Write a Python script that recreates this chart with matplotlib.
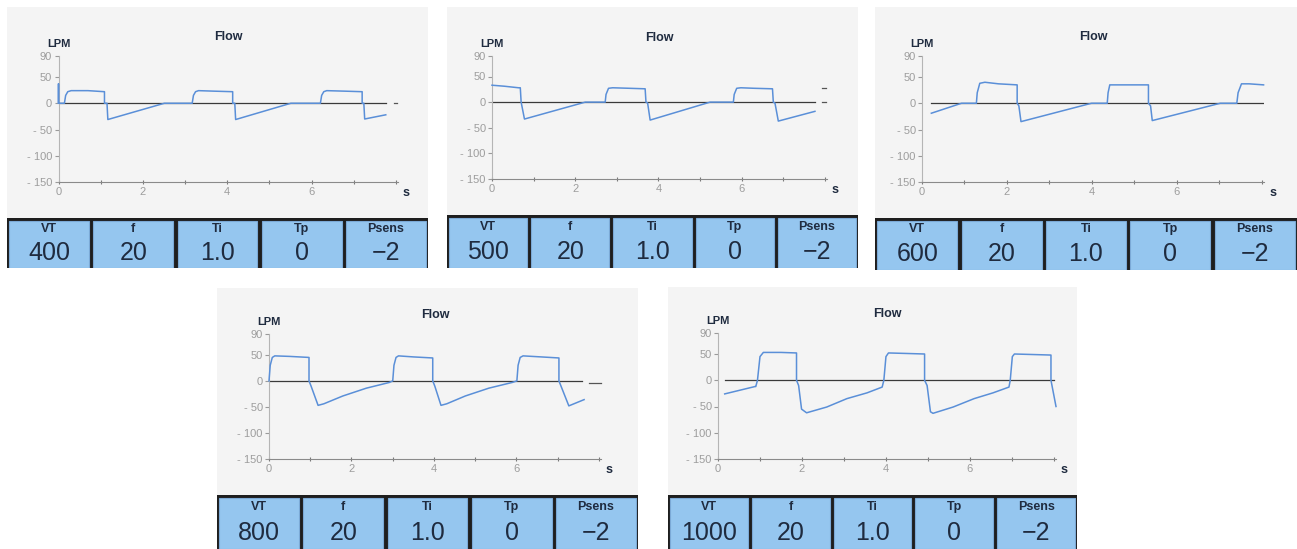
import matplotlib
matplotlib.use("Agg")
import matplotlib.pyplot as plt
from matplotlib.patches import Rectangle

plt.rcParams['font.family'] = ['Liberation Sans', 'DejaVu Sans']

vt_values = ['400', '500', '600', '800', '1000']
button_names = ['VT', 'f', 'Ti', 'Tp', 'Psens']
f_value = '20'
ti_value = '1.0'
tp_value = '0'
psens_value = '\u22122'

yticks = [90, 50, 0, -50, -100, -150]
ytick_labels = ['90', '50', '0', '- 50', '- 100', '- 150']
xticks = [0, 2, 4, 6]

t_400 = [0, 0, 0, 0.14, 0.17, 0.22, 0.30, 0.7, 1.09, 1.09, 1.15, 1.17, 2.51, 3.17, 3.20, 3.25, 3.32,
         3.7, 4.13, 4.13, 4.18, 4.20, 5.51, 6.21, 6.24, 6.29, 6.36, 6.8, 7.20, 7.20, 7.24, 7.26, 7.76]
flow_400 = [0, 37, 0, 0, 15, 22, 24, 24, 22, 0, 0, -31, 0, 0, 15, 22, 24,
            23, 22, 0, 0, -31, 0, 0, 15, 22, 24, 23, 22, 0, 0, -30, -22]

t_500 = [0, 0.3, 0.64, 0.68, 0.70, 0.78, 2.24, 2.72, 2.74, 2.80, 2.9, 3.3, 3.68, 3.70, 3.74, 3.80,
         5.24, 5.80, 5.82, 5.88, 5.98, 6.3, 6.74, 6.76, 6.80, 6.88, 7.76]
flow_500 = [33, 31, 28, 28, 0, -33, 0, 0, 15, 27, 28, 27, 26, 0, -2, -35,
            0, 0, 15, 27, 28, 27, 26, 0, -2, -37, -18]

t_600 = [0.22, 0.93, 1.28, 1.30, 1.36, 1.48, 1.8, 2.24, 2.24, 2.28, 2.33, 3.99, 4.36, 4.38, 4.42,
         4.8, 5.33, 5.33, 5.38, 5.42, 7.02, 7.41, 7.44, 7.52, 7.7, 8.04]
flow_600 = [-19, 0, 0, 20, 38, 40, 37, 35, 0, -5, -35, 0, 0, 20, 35,
            35, 35, 0, -5, -33, 0, 0, 20, 37, 37, 35]

t_800 = [0, 0.03, 0.08, 0.14, 0.5, 0.97, 0.97, 1.02, 1.19, 1.33, 1.79, 2.36, 2.92, 3.00, 3.03,
         3.08, 3.14, 3.5, 3.97, 3.97, 4.02, 4.17, 4.31, 4.76, 5.33, 5.90, 6.01, 6.04, 6.09, 6.16,
         6.6, 7.03, 7.03, 7.08, 7.27, 7.64]
flow_800 = [0, 30, 45, 48, 47, 45, 0, -10, -47, -44, -29, -14, -3, 0, 30,
            45, 48, 46, 44, 0, -10, -47, -44, -29, -14, -3, 0, 30, 45, 48,
            46, 44, 0, -10, -48, -36]

t_1000 = [0.16, 0.88, 0.90, 0.94, 1.0, 1.08, 1.5, 1.87, 1.87, 1.92, 1.99, 2.11, 2.59, 3.07, 3.55,
          3.91, 3.95, 4.00, 4.06, 4.5, 4.92, 4.92, 4.98, 5.06, 5.12, 5.6, 6.1, 6.55, 6.93, 6.96,
          7.01, 7.06, 7.5, 7.93, 7.93, 8.05]
flow_1000 = [-26, -12, -12, 0, 45, 53, 53, 52, 0, -10, -55, -62, -51, -35, -24,
             -13, 0, 45, 52, 51, 50, 0, -10, -60, -63, -51, -35, -24, -13, 0,
             45, 50, 49, 48, 0, -50]

# baseline (zero line) extent per screen, and stray dashes right of the trace
zero_spans = [(0, 7.76), (0, 7.76), (0.22, 8.04), (0, 7.6), (0.16, 8.0)]
tail_marks = [[(7.96, 8.03, 0)], [(7.92, 8.02, 28), (7.92, 8.02, 0)], [], [(7.76, 8.04, -4)], []]

waves = [(t_400, flow_400), (t_500, flow_500), (t_600, flow_600), (t_800, flow_800), (t_1000, flow_1000)]

# ---- layout in pixels (x0, y0, x1, y1), origin top left ----
W, H = 1297, 549
screens = [(7, 7, 428, 218), (447, 7, 858, 215), (875, 7, 1297, 218),
           (217, 288, 638, 495), (668, 287, 1077, 495)]
button_rows = [(7, 218, 428, 268), (447, 215, 858, 268), (875, 218, 1297, 270),
               (217, 495, 638, 549), (668, 495, 1077, 549)]
plot_boxes = [(58.5, 56, 398, 182), (492, 56, 827, 179), (922, 56, 1264, 182),
              (269, 334, 601, 459), (718, 333, 1056, 459)]
XMAX = 8.05

WAVE = '#5a8fd8'
INK = '#1f2b3f'
GRAY = '#9d9d9d'


def rect(box):
    x0, y0, x1, y1 = box
    return [x0 / W, 1 - y1 / H, (x1 - x0) / W, (y1 - y0) / H]


fig = plt.figure(figsize=(W / 100, H / 100), dpi=100)
fig.patch.set_facecolor('white')

for i in range(5):
    # screen background
    bg = fig.add_axes(rect(screens[i]))
    bg.set_facecolor('#f4f4f4')
    bg.set_xticks([])
    bg.set_yticks([])
    for sp in bg.spines.values():
        sp.set_visible(False)

    # flow plot
    ax = fig.add_axes(rect(plot_boxes[i]))
    ax.patch.set_alpha(0)
    ax.set_xlim(0, XMAX)
    ax.set_ylim(-150, 90)
    ax.spines['top'].set_visible(False)
    ax.spines['right'].set_visible(False)
    ax.spines['left'].set_color('#b5b5b5')
    ax.spines['bottom'].set_color('#8a8a8a')
    ax.spines['left'].set_linewidth(0.8)
    ax.spines['bottom'].set_linewidth(0.8)
    ax.set_yticks(yticks)
    ax.set_yticklabels(ytick_labels)
    ax.set_xticks(xticks)
    ax.set_xticks([1, 3, 5, 7, 8], minor=True)
    ax.tick_params(axis='y', length=3, width=0.8, color='#9a9a9a', labelsize=8,
                   labelcolor=GRAY, pad=1.5)
    ax.tick_params(axis='x', which='both', direction='inout', length=3, width=0.8,
                   color='#7a7a7a', labelsize=8, labelcolor=GRAY, pad=2)

    z0, z1 = zero_spans[i]
    ax.plot([z0, z1], [0, 0], color='#3a3a3a', lw=0.9, zorder=2)
    for a, b, y in tail_marks[i]:
        ax.plot([a, b], [y, y], color='#555555', lw=0.9, zorder=2, clip_on=False)
    t, flow = waves[i]
    ax.plot(t, flow, color=WAVE, lw=1.1, zorder=3, clip_on=False)

    ax.text(0.5, 1.15, 'Flow', transform=ax.transAxes, ha='center', va='center',
            fontsize=9, fontweight='bold', color=INK)
    ax.text(0.0, 1.095, 'LPM', transform=ax.transAxes, ha='center', va='center',
            fontsize=8, fontweight='bold', color=INK)
    ax.text(1.025, -0.09, 's', transform=ax.transAxes, ha='center', va='center',
            fontsize=9, fontweight='bold', color=INK)

    # button strip
    bx = fig.add_axes(rect(button_rows[i]))
    bx.set_facecolor('#1e1e1e')
    bx.set_xlim(0, 5)
    bx.set_ylim(0, 1)
    bx.set_xticks([])
    bx.set_yticks([])
    for sp in bx.spines.values():
        sp.set_visible(False)
    values = [vt_values[i], f_value, ti_value, tp_value, psens_value]
    for k in range(5):
        bx.add_patch(Rectangle((k + 0.025, 0.0), 0.95, 0.95, facecolor='#95c6ef',
                               edgecolor='#7ba9d6', lw=0.8))
        bx.text(k + 0.5, 0.78, button_names[k], ha='center', va='center',
                fontsize=9, fontweight='bold', color=INK)
        bx.text(k + 0.5, 0.3, values[k], ha='center', va='center',
                fontsize=18, color=INK)

fig.savefig('out.png', dpi=100)
